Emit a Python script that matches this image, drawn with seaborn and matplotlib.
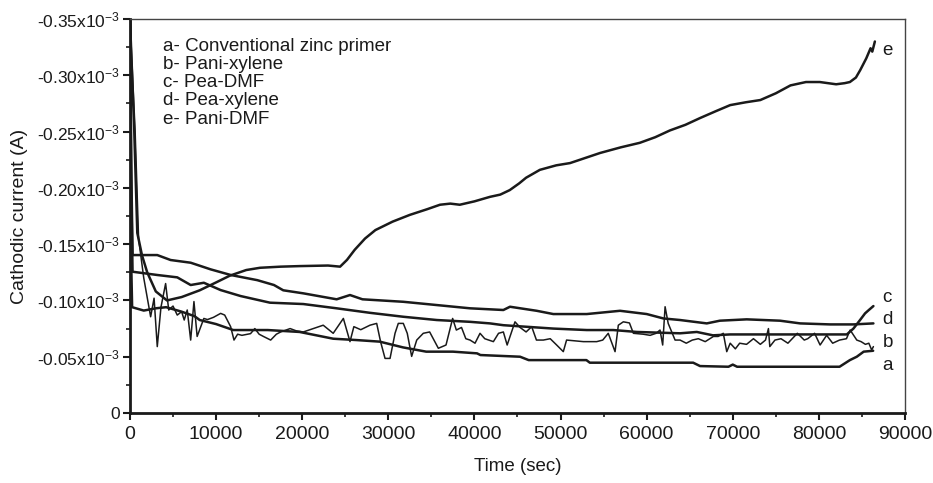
import numpy as np
import pandas as pd
import matplotlib
matplotlib.use('Agg')
import matplotlib.pyplot as plt
import seaborn as sns
from matplotlib.ticker import MultipleLocator

sns.set_style('ticks')
plt.rcParams['font.family'] = ['Liberation Sans', 'DejaVu Sans']
plt.rcParams['mathtext.fontset'] = 'custom'
plt.rcParams['mathtext.rm'] = 'Liberation Sans'
plt.rcParams['mathtext.default'] = 'regular'

# cathodic current magnitudes, in units of 1e-3 A (plotted as negative values)
a_time = [0, 100, 250, 1600, 3000, 4200, 6000, 7500, 8100, 10000, 12000, 16000, 19700,
          23600, 26300, 29000, 31700, 34400, 37500, 40300, 40700, 45300, 46300, 53000,
          53400, 65400, 66200, 69500, 70000, 70500, 82400, 83600, 84400, 85200, 86300]
a_curr = [0.35, 0.15, 0.094, 0.091, 0.093, 0.094, 0.090, 0.086, 0.0826, 0.079, 0.0737,
          0.0737, 0.072, 0.066, 0.0648, 0.0634, 0.0583, 0.0545, 0.0545, 0.053, 0.0515,
          0.050, 0.047, 0.047, 0.0447, 0.0447, 0.0417, 0.0411, 0.043, 0.0411, 0.0411,
          0.047, 0.050, 0.0545, 0.0553]

b_time = [0, 600, 1000, 1600, 2400, 2800, 3170, 3600, 4140, 4500, 5000, 5490, 6000, 6300,
          6650, 7050, 7430, 7800, 8580, 9000, 9700, 10530, 11000, 11690, 12080, 12500,
          13000, 14000, 14500, 15000, 15500, 16340, 17000, 17500, 18600, 19300, 20130,
          21300, 22440, 23600, 24780, 25550, 26000, 26800, 27870, 28650, 29100, 29620,
          30200, 30780, 31160, 31740, 32200, 32710, 33300, 34060, 34800, 35810, 36700,
          37470, 37900, 38500, 39000, 39490, 40070, 40650, 41200, 42200, 42800, 43360,
          43800, 44710, 45300, 46000, 46650, 47200, 48000, 48800, 49550, 50320, 50700,
          52650, 54200, 54900, 55540, 56330, 56710, 57290, 58000, 58460, 59600, 60400,
          61100, 61550, 61860, 62140, 62500, 63300, 63880, 64600, 65300, 66000, 66800,
          67750, 68300, 68900, 69300, 69700, 70300, 70800, 71600, 72400, 73200, 73800,
          74140, 74300, 74900, 75600, 76400, 77500, 78300, 78700, 79500, 80140, 80900,
          81600, 82400, 83200, 83630, 84400, 84900, 85400, 85800, 86130, 86330]
b_curr = [0.35, 0.25, 0.155, 0.12, 0.0855, 0.102, 0.059, 0.094, 0.115, 0.0915, 0.095,
          0.087, 0.090, 0.0826, 0.0915, 0.0648, 0.099, 0.068, 0.084, 0.083, 0.085, 0.0885,
          0.087, 0.0767, 0.0648, 0.070, 0.069, 0.0705, 0.075, 0.070, 0.068, 0.0648, 0.070,
          0.072, 0.075, 0.073, 0.072, 0.075, 0.078, 0.0708, 0.084, 0.0634, 0.0767, 0.074,
          0.078, 0.0796, 0.0634, 0.0485, 0.0485, 0.0708, 0.0796, 0.0796, 0.0708, 0.0503,
          0.0648, 0.0708, 0.072, 0.0575, 0.0604, 0.084, 0.0737, 0.076, 0.066, 0.0648,
          0.062, 0.0708, 0.066, 0.0634, 0.0708, 0.072, 0.0604, 0.081, 0.076, 0.072, 0.0767,
          0.0648, 0.0648, 0.066, 0.0604, 0.0545, 0.0648, 0.0634, 0.0634, 0.0648, 0.0708,
          0.0545, 0.078, 0.081, 0.080, 0.0708, 0.070, 0.069, 0.0708, 0.0737, 0.0604,
          0.0944, 0.0796, 0.0648, 0.0648, 0.062, 0.0648, 0.066, 0.0634, 0.068, 0.068,
          0.0708, 0.0545, 0.062, 0.057, 0.062, 0.061, 0.066, 0.061, 0.0648, 0.075, 0.059,
          0.0648, 0.066, 0.062, 0.0708, 0.0648, 0.066, 0.0708, 0.0604, 0.069, 0.062,
          0.0648, 0.066, 0.0737, 0.0648, 0.0634, 0.061, 0.062, 0.056, 0.059]

c_time = [0, 150, 300, 3170, 5490, 7050, 8580, 10530, 12850, 16260, 20130, 24000, 27870,
          31740, 35620, 39490, 41810, 43360, 49160, 53040, 56130, 58850, 63880, 65820,
          67700, 69690, 79360, 83240, 84010, 84780, 85360, 85800, 86330]
c_curr = [0.35, 0.2, 0.1255, 0.1226, 0.1205, 0.1137, 0.1157, 0.1092, 0.1039, 0.098,
          0.0968, 0.093, 0.089, 0.0855, 0.0826, 0.081, 0.0796, 0.078, 0.075, 0.0737,
          0.0737, 0.072, 0.0708, 0.072, 0.069, 0.0698, 0.0698, 0.0698, 0.075, 0.0826,
          0.0885, 0.0915, 0.095]

d_time = [0, 150, 300, 3170, 4720, 7050, 9370, 11700, 14790, 16720, 17800, 20130, 24000,
          25550, 27000, 31740, 35620, 39490, 43360, 44130, 47230, 49160, 53040, 56910,
          60010, 61940, 63880, 66980, 68500, 71620, 75490, 77820, 81300, 84010, 86330]
d_curr = [0.35, 0.22, 0.1403, 0.1403, 0.1359, 0.1335, 0.1276, 0.1226, 0.118, 0.1137,
          0.109, 0.1063, 0.101, 0.1048, 0.101, 0.0988, 0.0959, 0.093, 0.0915, 0.0944,
          0.0908, 0.0879, 0.0879, 0.0908, 0.0879, 0.084, 0.0826, 0.0796, 0.082, 0.0832,
          0.082, 0.0796, 0.0787, 0.0787, 0.0796]

e_time = [0, 500, 850, 1400, 2000, 3000, 4300, 6000, 8100, 10000, 11600, 13500, 15100,
          17500, 19700, 23000, 24400, 25200, 26100, 27300, 28500, 30500, 32500, 34500,
          36000, 37200, 38300, 40000, 41800, 43000, 44100, 45200, 46000, 47600, 49500,
          51100, 54600, 57000, 59200, 61000, 62700, 64500, 66200, 68000, 69700, 71500,
          73200, 75000, 76700, 78500, 80100, 82000, 83000, 83600, 84300, 84800, 85500,
          86000, 86200, 86500]
e_curr = [0.35, 0.25, 0.16, 0.14, 0.125, 0.108, 0.100, 0.103, 0.109, 0.116, 0.122, 0.127,
          0.129, 0.130, 0.1305, 0.131, 0.130, 0.136, 0.145, 0.155, 0.1625, 0.170, 0.176,
          0.181, 0.185, 0.186, 0.185, 0.188, 0.192, 0.194, 0.198, 0.204, 0.209, 0.216,
          0.220, 0.222, 0.231, 0.236, 0.240, 0.245, 0.251, 0.256, 0.262, 0.268, 0.2735,
          0.276, 0.278, 0.284, 0.291, 0.294, 0.294, 0.292, 0.293, 0.294, 0.298, 0.3046,
          0.315, 0.324, 0.321, 0.33]

legend_lines = ['a- Conventional zinc primer', 'b- Pani-xylene', 'c- Pea-DMF',
                'd- Pea-xylene', 'e- Pani-DMF']
end_labels = ['a', 'b', 'c', 'd', 'e']
end_label_y = [0.0426, 0.063, 0.103, 0.0835, 0.3224]

y_ticks = [0, 0.05, 0.10, 0.15, 0.20, 0.25, 0.30, 0.35]
y_tick_labels = ['0'] + ['-%.2fx10$^{-3}$' % v for v in y_ticks[1:]]

fig = plt.figure(figsize=(9.33, 4.83), dpi=100)
ax = fig.add_axes([0.1393, 0.1449, 0.8307, 0.8158])

series = [(a_time, a_curr, 1.8), (b_time, b_curr, 1.1), (c_time, c_curr, 1.8),
          (d_time, d_curr, 1.8), (e_time, e_curr, 1.8)]
for t, cur, lw in series:
    sns.lineplot(x=t, y=-np.array(cur) * 1e-3, ax=ax, color='#1a1a1a', lw=lw,
                 estimator=None, sort=False)

ax.set_xlim(0, 90000)
ax.set_ylim(0, -0.35e-3)
ax.set_yticks([-v * 1e-3 for v in y_ticks])
ax.set_yticklabels(y_tick_labels)
ax.xaxis.set_major_locator(MultipleLocator(10000))
ax.xaxis.set_minor_locator(MultipleLocator(5000))
ax.yaxis.set_minor_locator(MultipleLocator(0.025e-3))

ax.tick_params(axis='both', which='major', direction='out', length=5, width=1.5,
               color='#1a1a1a', labelcolor='#1a1a1a')
ax.tick_params(axis='both', which='minor', direction='out', length=3, width=1.2,
               color='#1a1a1a')
ax.tick_params(axis='x', labelsize=14, pad=4)
ax.tick_params(axis='y', labelsize=12.5, pad=2)

for side in ['left', 'bottom']:
    ax.spines[side].set_linewidth(2)
    ax.spines[side].set_color('#1a1a1a')
for side in ['top', 'right']:
    ax.spines[side].set_linewidth(1)
    ax.spines[side].set_color('#444444')

ax.set_xlabel('Time (sec)', fontsize=13.5, color='#1a1a1a')
ax.set_ylabel('Cathodic current (A)', fontsize=14, color='#1a1a1a')
ax.xaxis.set_label_coords(0.5, -0.115)
ax.yaxis.set_label_coords(-0.132, 0.5)

ax.text(0.043, 0.953, '\n'.join(legend_lines), transform=ax.transAxes, ha='left',
        va='top', fontsize=13.5, linespacing=1.1, color='#1a1a1a')
for lab, yv in zip(end_labels, end_label_y):
    ax.text(87400, -yv * 1e-3, lab, ha='left', va='center', fontsize=13.5,
            color='#1a1a1a')

fig.savefig('out.png', dpi=100)
